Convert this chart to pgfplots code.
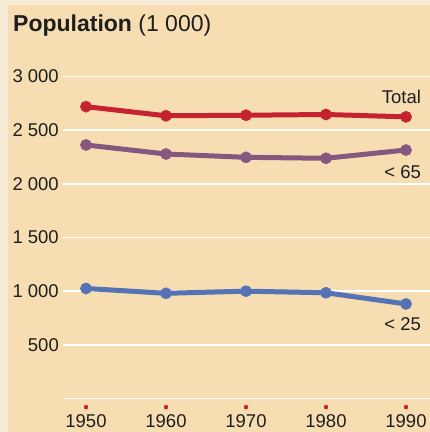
\documentclass[border=0pt]{standalone}
\usepackage{fontspec}
\setmainfont{Liberation Sans}
\usepackage{pgfplots}
\pgfplotsset{compat=1.18}
\definecolor{bg}{HTML}{F7DEB2}
\definecolor{bgl}{HTML}{F6EBD6}
\definecolor{cTotal}{HTML}{C62330}
\definecolor{cSixty}{HTML}{86577F}
\definecolor{cTwenty}{HTML}{5572B5}
\definecolor{ctick}{HTML}{C8202A}
\definecolor{txt}{HTML}{1E1E1E}
\begin{document}
\begin{tikzpicture}
\path[use as bounding box] (0,0) rectangle (430bp,432bp);
\fill[bg] (0,0) rectangle (430bp,432bp);
\fill[bgl] (0,0) rectangle (8bp,432bp);
\fill[bgl] (0,427bp) rectangle (430bp,432bp);
\begin{axis}[
  at={(63bp,17.4bp)}, anchor=south west,
  scale only axis, width=367bp, height=354.2bp,
  xmin=1947.125, xmax=1993, ymin=-150, ymax=3150,
  axis line style={draw=none}, major tick length=0pt,
  xtick={1950,1960,1970,1980,1990},
  xticklabels={1950,1960,1970,1980,1990},
  ytick={0,500,1000,1500,2000,2500,3000},
  yticklabels={{},500,1 000,1 500,2 000,2 500,3 000},
  ymajorgrids, grid style={white, line width=1.8bp},
  tick label style={font=\fontsize{18.5bp}{20bp}\selectfont, text=txt, inner sep=0pt},
  yticklabel style={xshift=-4bp},
  clip=false,
]
\addplot[color=cTotal, line width=5bp, mark=*, mark size=5.6bp, mark options={fill=cTotal, line width=0.5bp}] coordinates {(1950,2719) (1960,2634) (1970,2639) (1980,2646) (1990,2624)};
\addplot[color=cSixty, line width=5bp, mark=*, mark size=5.6bp, mark options={fill=cSixty, line width=0.5bp}] coordinates {(1950,2362) (1960,2278) (1970,2247) (1980,2238) (1990,2315)};
\addplot[color=cTwenty, line width=5bp, mark=*, mark size=5.6bp, mark options={fill=cTwenty, line width=0.5bp}] coordinates {(1950,1025) (1960,980) (1970,1000) (1980,985) (1990,881)};
\addplot[only marks, color=ctick, mark=*, mark size=2bp, mark options={fill=ctick, line width=0.4bp}] coordinates {(1950,-80) (1960,-80) (1970,-80) (1980,-80) (1990,-80)};
\node[anchor=base east, inner sep=0pt, font=\fontsize{18.5bp}{20bp}\selectfont, text=txt] at (axis cs:1991.9,2753) {Total};
\node[anchor=base east, inner sep=0pt, font=\fontsize{18.5bp}{20bp}\selectfont, text=txt] at (axis cs:1991.9,2052) {< 65};
\node[anchor=base east, inner sep=0pt, font=\fontsize{18.5bp}{20bp}\selectfont, text=txt] at (axis cs:1991.9,635) {< 25};
\end{axis}
\node[anchor=base west, inner sep=0pt, font=\fontsize{23bp}{26bp}\selectfont, text=txt] at (13bp,400.3bp) {\textbf{Population} (1 000)};
\end{tikzpicture}
\end{document}
